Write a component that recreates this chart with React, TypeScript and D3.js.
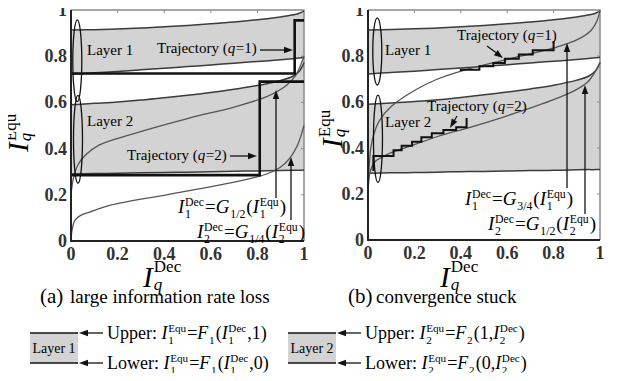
import React, { useEffect, useRef } from 'react';
import * as d3 from 'd3';

const FONT = "'Liberation Serif', 'DejaVu Serif', serif";

// axis ticks
const ticks = [0, 0.2, 0.4, 0.6, 0.8, 1];
const tickText = ['0', '0.2', '0.4', '0.6', '0.8', '1'];

// layer bounds F(.,1) / F(.,0), same in both panels
const layerX = [0, 0.1, 0.2, 0.3, 0.4, 0.5, 0.6, 0.7, 0.8, 0.9, 0.95, 0.98, 1];
const layer1Upper = [0.913, 0.915, 0.918, 0.922, 0.927, 0.933, 0.94, 0.948, 0.958, 0.97, 0.978, 0.986, 0.995];
const layer1Lower = [0.722, 0.728, 0.734, 0.741, 0.748, 0.755, 0.762, 0.77, 0.777, 0.785, 0.789, 0.792, 0.795];
const layer2Upper = [0.59, 0.596, 0.602, 0.61, 0.62, 0.631, 0.643, 0.657, 0.673, 0.695, 0.712, 0.735, 0.772];
const layer2Lower = [0.29, 0.292, 0.293, 0.295, 0.297, 0.298, 0.3, 0.302, 0.303, 0.305, 0.306, 0.306, 0.307];

// (a) decoder curves G
const aG12X = [0, 0.01, 0.03, 0.06, 0.12, 0.27, 0.5, 0.7, 0.84, 0.92, 0.96, 0.985, 1];
const aG12Y = [0.2, 0.27, 0.33, 0.37, 0.415, 0.465, 0.53, 0.58, 0.625, 0.67, 0.71, 0.76, 0.8];
const aG14X = [0, 0.005, 0.017, 0.04, 0.08, 0.17, 0.41, 0.7, 0.84, 0.9, 0.94, 0.97, 0.99, 1];
const aG14Y = [0, 0.05, 0.09, 0.11, 0.125, 0.155, 0.2, 0.255, 0.29, 0.32, 0.36, 0.41, 0.465, 0.5];
// (a) trajectories
const aT1X = [0, 0.96, 1];
const aT1Y = [0.725, 0.725, 0.955, 0.955];
const aT2X = [0, 0.81, 1];
const aT2Y = [0.285, 0.285, 0.69, 0.69];

// (b) decoder curves G
const bG34X = [0, 0.004, 0.012, 0.025, 0.05, 0.1, 0.2, 0.3, 0.42, 0.6, 0.8, 0.9, 0.96, 0.99, 1];
const bG34Y = [0.2, 0.3, 0.4, 0.46, 0.52, 0.58, 0.65, 0.7, 0.74, 0.785, 0.835, 0.87, 0.91, 0.96, 1];
const bG12X = [0, 0.01, 0.03, 0.06, 0.1, 0.2, 0.3, 0.44, 0.6, 0.8, 0.9, 0.95, 1];
const bG12Y = [0.2, 0.3, 0.34, 0.36, 0.38, 0.415, 0.45, 0.49, 0.54, 0.61, 0.655, 0.69, 0.77];
// (b) staircase trajectories
const bT1X = [0.4, 0.48, 0.54, 0.59, 0.65, 0.71, 0.8];
const bT1Y = [0.735, 0.74, 0.755, 0.77, 0.788, 0.806, 0.825, 0.865];
const bT2X = [0.023, 0.11, 0.145, 0.19, 0.23, 0.275, 0.325, 0.38, 0.425];
const bT2Y = [0.3, 0.365, 0.39, 0.41, 0.427, 0.447, 0.464, 0.478, 0.49, 0.53];

type Tok = { t?: string; it?: boolean; sup?: string; sub?: string; subIt?: boolean; s?: number; up?: number; dn?: number };

// lays out a small formula made of tokens; returns the group
function mathText(parent: any, x: number, y: number, toks: Tok[], size: number, anchor = 'start') {
  const g = parent.append('g');
  let cx = 0;
  const small = size * 0.62;
  toks.forEach((tok) => {
    if (tok.t !== undefined) {
      const sz = tok.s ?? size;
      const el = g.append('text').attr('x', cx).attr('y', 0)
        .attr('font-size', sz).attr('font-style', tok.it ? 'italic' : 'normal').text(tok.t);
      cx += (el.node() as SVGTextElement).getComputedTextLength() + (tok.it ? sz * 0.04 : 0);
    } else {
      const sz = tok.s ?? small;
      let w = 0;
      if (tok.sup) {
        const el = g.append('text').attr('x', cx).attr('y', -(tok.up ?? sz * 0.62)).attr('font-size', sz).text(tok.sup);
        w = Math.max(w, (el.node() as SVGTextElement).getComputedTextLength());
      }
      if (tok.sub) {
        const el = g.append('text').attr('x', cx).attr('y', tok.dn ?? sz * 0.42).attr('font-size', sz)
          .attr('font-style', tok.subIt ? 'italic' : 'normal').text(tok.sub);
        w = Math.max(w, (el.node() as SVGTextElement).getComputedTextLength());
      }
      cx += w + 1;
    }
  });
  const shift = anchor === 'end' ? -cx : anchor === 'middle' ? -cx / 2 : 0;
  g.attr('transform', `translate(${x + shift},${y})`);
  return g;
}

function arrow(g: any, x1: number, y1: number, x2: number, y2: number) {
  const a = Math.atan2(y2 - y1, x2 - x1);
  const L = 9, hw = 3.2;
  const bx = x2 - L * Math.cos(a), by = y2 - L * Math.sin(a);
  g.append('line').attr('x1', x1).attr('y1', y1).attr('x2', bx).attr('y2', by)
    .attr('stroke', '#111').attr('stroke-width', 1.3);
  g.append('path')
    .attr('d', `M${x2},${y2}L${bx - hw * Math.sin(a)},${by + hw * Math.cos(a)}L${bx + hw * Math.sin(a)},${by - hw * Math.cos(a)}Z`)
    .attr('fill', '#111');
}

const stairs = (xs: number[], ys: number[]) => {
  const pts: [number, number][] = [[xs[0], ys[0]]];
  xs.forEach((x, i) => {
    pts.push([x, ys[i + 1]]);
    if (i < xs.length - 1) pts.push([xs[i + 1], ys[i + 1]]);
  });
  return pts;
};

const App = () => {
  const ref = useRef<SVGSVGElement>(null);

  useEffect(() => {
    const svg = d3.select(ref.current);
    svg.selectAll('*').remove();

    const panels = [
      { id: 'a', x0: 71, x1: 304, y0: 241, y1: 10, yl: 28, ylY: 152 },
      { id: 'b', x0: 368, x1: 600, y0: 240, y1: 10, yl: 342, ylY: 148 },
    ];

    panels.forEach((p) => {
      const x = d3.scaleLinear().domain([0, 1]).range([p.x0, p.x1]);
      const y = d3.scaleLinear().domain([0, 1]).range([p.y0, p.y1]);
      const g = svg.append('g');
      const curve = d3.line<[number, number]>().x((d) => x(d[0])).y((d) => y(d[1])).curve(d3.curveCatmullRom.alpha(0.5));
      const straight = d3.line<[number, number]>().x((d) => x(d[0])).y((d) => y(d[1]));
      const band = d3.area<number>().x((d) => x(d)).curve(d3.curveCatmullRom.alpha(0.5));

      // gray layer bands
      g.append('path').datum(layerX)
        .attr('d', band.y0((d, i) => y(layer1Lower[i])).y1((d, i) => y(layer1Upper[i])))
        .attr('fill', '#d3d3d3');
      g.append('path').datum(layerX)
        .attr('d', band.y0((d, i) => y(layer2Lower[i])).y1((d, i) => y(layer2Upper[i])))
        .attr('fill', '#d3d3d3');

      // frame + ticks
      g.append('path').attr('d', `M${x(0)},${y(1)}H${x(1)}V${y(0)}`)
        .attr('fill', 'none').attr('stroke', '#8a8a8a').attr('stroke-width', 1.5);
      ticks.slice(1, 5).forEach((t) => {
        g.append('line').attr('x1', x(t)).attr('x2', x(t)).attr('y1', y(1)).attr('y2', y(1) + 3).attr('stroke', '#8a8a8a');
        g.append('line').attr('x1', x(1)).attr('x2', x(1) - 3).attr('y1', y(t)).attr('y2', y(t)).attr('stroke', '#8a8a8a');
      });

      // layer bound lines
      [layer1Upper, layer1Lower, layer2Upper, layer2Lower].forEach((arr) => {
        g.append('path').datum(layerX.map((v, i) => [v, arr[i]] as [number, number]))
          .attr('d', curve).attr('fill', 'none').attr('stroke', '#3c3c3c').attr('stroke-width', 1.5);
      });

      const gCurves = p.id === 'a' ? [[aG12X, aG12Y], [aG14X, aG14Y]] : [[bG34X, bG34Y], [bG12X, bG12Y]];
      gCurves.forEach(([xs, ys]) => {
        g.append('path').datum(xs.map((v, i) => [v, ys[i]] as [number, number]))
          .attr('d', curve).attr('fill', 'none').attr('stroke', '#555').attr('stroke-width', 1.3);
      });

      const trajs = p.id === 'a' ? [[aT1X, aT1Y], [aT2X, aT2Y]] : [[bT1X, bT1Y], [bT2X, bT2Y]];
      trajs.forEach(([xs, ys]) => {
        g.append('path').datum(stairs(xs, ys)).attr('d', straight)
          .attr('fill', 'none').attr('stroke', '#111').attr('stroke-width', p.id === 'a' ? 2.6 : 2)
          .attr('stroke-linejoin', 'miter');
      });

      // left / bottom axes
      g.append('path').attr('d', `M${x(0)},${y(1)}V${y(0)}H${x(1)}`)
        .attr('fill', 'none').attr('stroke', '#222').attr('stroke-width', 2);

      // ellipses marking layers
      const ells = p.id === 'a'
        ? [[0.027, 0.78, 0.177], [0.03, 0.44, 0.19]]
        : [[0.04, 0.82, 0.146], [0.043, 0.44, 0.19]];
      ells.forEach(([cx, cy, ry]) => {
        g.append('ellipse').attr('cx', x(cx)).attr('cy', y(cy)).attr('rx', 4.5)
          .attr('ry', y(0) - y(ry)).attr('fill', 'none').attr('stroke', '#111').attr('stroke-width', 1.3);
      });

      // tick labels
      ticks.forEach((t, i) => {
        g.append('text').attr('x', x(t)).attr('y', p.y0 + 19).attr('text-anchor', 'middle')
          .attr('font-size', 18).attr('font-weight', 'bold').attr('fill', '#333').text(tickText[i]);
        g.append('text').attr('x', p.x0 - 4).attr('y', y(t) + 6).attr('text-anchor', 'end')
          .attr('font-size', 18).attr('font-weight', 'bold').attr('fill', '#333').text(tickText[i]);
      });

      // axis titles
      const title = (lab: string, up: number): Tok[] => [{ t: 'I', it: true, s: 29 }, { sup: lab, sub: 'q', subIt: true, s: 17, up, dn: 3 }];
      mathText(g, p.x0 + 72, 287, title('Dec', 15), 29);
      const yl = mathText(g, 0, 0, title('Equ', 12), 29);
      yl.attr('transform', `translate(${p.yl},${p.ylY}) rotate(-90)`);

      // layer names
      const ln = p.id === 'a' ? [87, 55, 126] : [385, 55, 127];
      g.append('text').attr('x', ln[0]).attr('y', ln[1]).attr('font-size', 15).text('Layer 1');
      g.append('text').attr('x', ln[0]).attr('y', ln[2]).attr('font-size', 15).text('Layer 2');
    });

    const tx = (g: any, xx: number, yy: number, parts: Tok[]) => mathText(g, xx, yy, parts, 15);
    const traj = (q: string): Tok[] => [{ t: 'Trajectory (' }, { t: 'q', it: true, s: 15 }, { t: '=' + q + ')' }];
    const an = svg.append('g');
    // (a) annotations
    tx(an, 157, 53, traj('1'));
    arrow(an, 260, 50, 293, 50);
    tx(an, 127, 160, traj('2'));
    arrow(an, 230, 156, 257, 156);
    const G = (sub: string, i: string): Tok[] => [
      { t: 'I', it: true }, { sup: 'Dec', sub: i }, { t: '=' }, { t: 'G', it: true }, { sub: sub },
      { t: '(' }, { t: 'I', it: true }, { sup: 'Equ', sub: i }, { t: ')' },
    ];
    mathText(an, 178, 213, G('1/2', '1'), 19);
    mathText(an, 197, 238, G('1/4', '2'), 19);
    arrow(an, 276, 198, 276, 90);
    arrow(an, 291, 220, 291, 157);
    // (b) annotations
    tx(an, 457, 40, traj('1'));
    arrow(an, 487, 46, 503, 58);
    tx(an, 427, 111, traj('2'));
    arrow(an, 457, 116, 450, 128);
    mathText(an, 573, 205, G('3/4', '1'), 19, 'end');
    mathText(an, 596, 230, G('1/2', '2'), 19, 'end');
    arrow(an, 567, 188, 567, 43);
    arrow(an, 585, 214, 585, 85);

    // captions
    const cap = svg.append('g');
    cap.append('text').attr('x', 40).attr('y', 303).attr('font-size', 21).text('(a)');
    cap.append('text').attr('x', 70).attr('y', 303).attr('font-size', 19).text('large information rate loss');
    cap.append('text').attr('x', 348).attr('y', 303).attr('font-size', 21).text('(b)');
    cap.append('text').attr('x', 376).attr('y', 303).attr('font-size', 19).text('convergence stuck');

    // legends
    const legends = [
      { bx: 30, name: 'Layer 1', l: '1', up: [{ t: '(' }, { t: 'I', it: true }, { sup: 'Dec', sub: '1' }, { t: ',1)' }], lo: [{ t: '(' }, { t: 'I', it: true }, { sup: 'Dec', sub: '1' }, { t: ',0)' }] },
      { bx: 288, name: 'Layer 2', l: '2', up: [{ t: '(1,' }, { t: 'I', it: true }, { sup: 'Dec', sub: '2' }, { t: ')' }], lo: [{ t: '(0,' }, { t: 'I', it: true }, { sup: 'Dec', sub: '2' }, { t: ')' }] },
    ];
    legends.forEach((lg) => {
      const g = svg.append('g');
      g.append('rect').attr('x', lg.bx).attr('y', 333).attr('width', 48).attr('height', 30).attr('fill', '#d3d3d3');
      g.append('line').attr('x1', lg.bx).attr('x2', lg.bx + 48).attr('y1', 333).attr('y2', 333).attr('stroke', '#111').attr('stroke-width', 1.5);
      g.append('line').attr('x1', lg.bx).attr('x2', lg.bx + 48).attr('y1', 363).attr('y2', 363).attr('stroke', '#111').attr('stroke-width', 1.5);
      g.append('text').attr('x', lg.bx + 24).attr('y', 353).attr('text-anchor', 'middle').attr('font-size', 14).text(lg.name);
      arrow(g, lg.bx + 73, 333, lg.bx + 49, 333);
      arrow(g, lg.bx + 73, 363, lg.bx + 49, 363);
      const head = (w: string): Tok[] => [{ t: w + ':\u00a0' }, { t: 'I', it: true }, { sup: 'Equ', sub: lg.l }, { t: '=' }, { t: 'F', it: true }, { sub: lg.l }];
      mathText(g, lg.bx + 77, 339, [...head('Upper'), ...(lg.up as Tok[])], 18);
      mathText(g, lg.bx + 77, 369, [...head('Lower'), ...(lg.lo as Tok[])], 18);
    });
  }, []);

  return (
    <svg ref={ref} width={637} height={381}
      style={{ display: 'block', margin: -8, fontFamily: FONT }} />
  );
};

export default App;
